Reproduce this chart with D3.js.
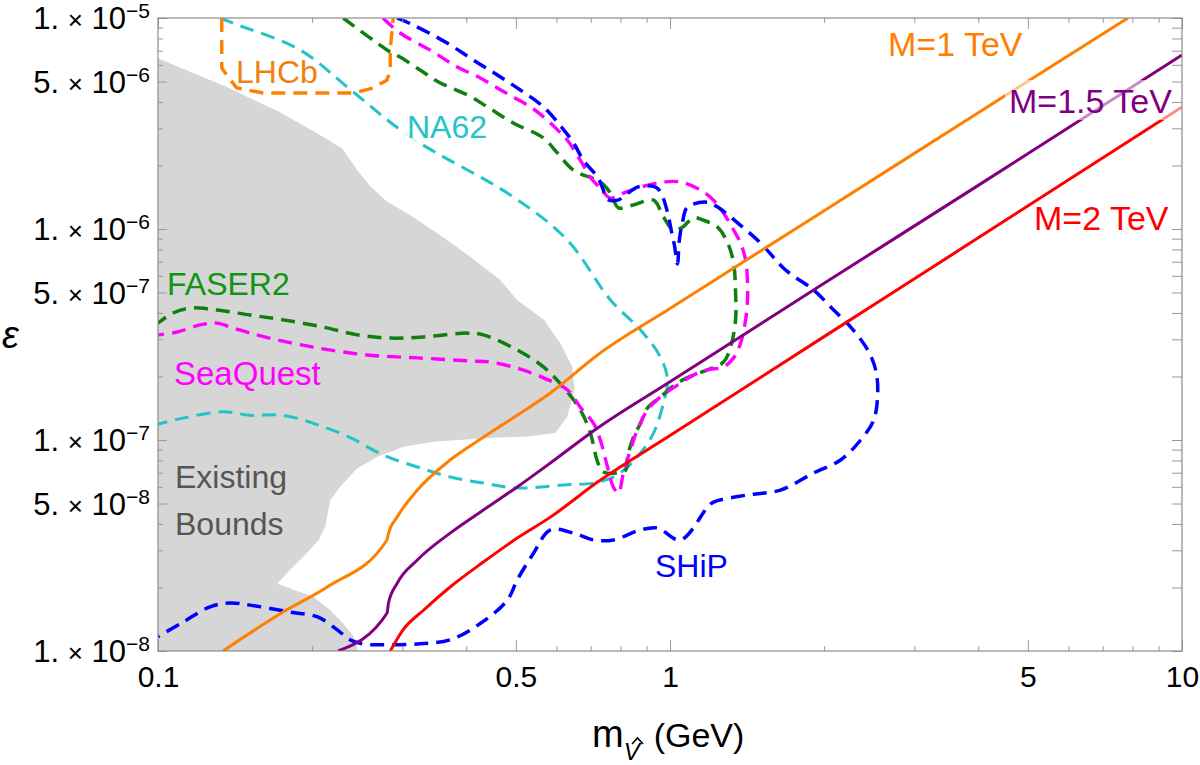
<!DOCTYPE html>
<html lang="en">
<meta charset="utf-8">
<script src="https://d3js.org/d3.v7.min.js"></script>
<style>
  body { margin: 0; background: #fff; }
  text { font-family: "Liberation Sans", Arial, sans-serif; }
</style>
<svg id="base" width="1200" height="765"></svg>

<script>
// ---- data: [mass (GeV), epsilon] ----
var existingBounds = [[0.1,6.44e-6],[0.138,4.64e-6],[0.172,3.60e-6],[0.210,2.74e-6],[0.229,2.41e-6],[0.245,1.90e-6],[0.260,1.59e-6],[0.280,1.35e-6],[0.315,1.14e-6],[0.367,8.87e-7],[0.407,7.39e-7],[0.466,5.73e-7],[0.503,4.61e-7],[0.567,3.71e-7],[0.611,2.87e-7],[0.644,2.23e-7],[0.651,1.73e-7],[0.630,1.29e-7],[0.597,1.08e-7],[0.526,1.04e-7],[0.433,1.02e-7],[0.345,9.82e-8],[0.302,9.29e-8],[0.268,8.33e-8],[0.245,7.34e-8],[0.227,6.01e-8],[0.217,5.20e-8],[0.212,3.88e-8],[0.206,3.36e-8],[0.195,2.90e-8],[0.181,2.42e-8],[0.171,2.09e-8],[0.184,1.95e-8],[0.201,1.81e-8],[0.217,1.56e-8],[0.230,1.35e-8],[0.241,1.17e-8],[0.246,1e-8],[0.1,1e-8]];

var lhcb = [[0.1332,1e-5],[0.1332,5.79e-6],[0.1362,5.37e-6],[0.1425,4.66e-6],[0.1604,4.41e-6],[0.2406,4.41e-6],[0.2633,4.66e-6],[0.2801,5.08e-6],[0.2842,5.67e-6],[0.2842,7.05e-6],[0.288,1e-5]];

var na62 = [[0.1322,1e-5],[0.1415,9.37e-6],[0.1895,7.05e-6],[0.2406,4.46e-6],[0.311,2.73e-6],[0.494,1.42e-6],[0.630,8.87e-7],[0.765,4.61e-7],[0.876,3.32e-7],[0.958,2.47e-7],[0.989,1.93e-7],[0.971,1.50e-7],[0.929,1.08e-7],[0.876,8.68e-8],[0.826,7.45e-8],[0.775,6.68e-8],[0.709,6.25e-8],[0.619,6.12e-8],[0.503,5.92e-8],[0.432,6.25e-8],[0.372,6.68e-8],[0.321,7.45e-8],[0.275,8.49e-8],[0.237,1.03e-7],[0.205,1.18e-7],[0.1755,1.31e-7],[0.1513,1.31e-7],[0.134,1.36e-7],[0.1119,1.27e-7],[0.1,1.19e-7]];

var faser2 = [[0.230,1e-5],[0.2842,6.90e-6],[0.297,6.53e-6],[0.325,5.67e-6],[0.353,4.97e-6],[0.402,4.32e-6],[0.440,3.79e-6],[0.494,3.18e-6],[0.566,2.70e-6],[0.603,2.29e-6],[0.648,1.90e-6],[0.731,1.67e-6],[0.765,1.48e-6],[0.793,1.26e-6],[0.848,1.30e-6],[0.929,1.37e-6],[0.971,1.14e-6],[1.016,9.89e-7],[1.058,1.02e-6],[1.111,1.13e-6],[1.163,1.10e-6],[1.239,1.02e-6],[1.296,8.58e-7],[1.331,6.90e-7],[1.343,4.97e-7],[1.343,3.71e-7],[1.313,2.76e-7],[1.272,2.34e-7],[1.184,2.15e-7],[1.111,2.03e-7],[1.034,1.86e-7],[0.958,1.60e-7],[0.904,1.42e-7],[0.876,1.20e-7],[0.848,1.03e-7],[0.826,8.30e-8],[0.819,7.20e-8],[0.741,7.05e-8],[0.722,7.87e-8],[0.699,1.08e-7],[0.668,1.39e-7],[0.619,1.78e-7],[0.566,2.22e-7],[0.503,2.67e-7],[0.432,3.15e-7],[0.402,3.21e-7],[0.330,3.08e-7],[0.284,3.04e-7],[0.245,3.15e-7],[0.210,3.43e-7],[0.1755,3.71e-7],[0.1513,3.91e-7],[0.1304,4.13e-7],[0.1155,4.22e-7],[0.107,4.00e-7],[0.1,3.58e-7]];

var seaquest = [[0.275,1e-5],[0.297,8.49e-6],[0.340,7.05e-6],[0.384,5.86e-6],[0.426,5.20e-6],[0.460,4.66e-6],[0.494,4.22e-6],[0.534,3.79e-6],[0.566,3.40e-6],[0.603,2.95e-6],[0.630,2.64e-6],[0.668,2.12e-6],[0.699,1.76e-6],[0.731,1.56e-6],[0.765,1.40e-6],[0.811,1.48e-6],[0.876,1.58e-6],[0.971,1.67e-6],[1.048,1.67e-6],[1.147,1.53e-6],[1.216,1.37e-6],[1.272,1.19e-6],[1.331,9.89e-7],[1.373,8.58e-7],[1.405,7.13e-7],[1.417,5.55e-7],[1.417,4.61e-7],[1.405,3.71e-7],[1.373,2.87e-7],[1.331,2.45e-7],[1.272,2.22e-7],[1.184,2.15e-7],[1.111,2.03e-7],[1.034,1.82e-7],[0.958,1.60e-7],[0.904,1.39e-7],[0.864,1.12e-7],[0.837,8.97e-8],[0.811,6.98e-8],[0.793,5.61e-8],[0.775,5.99e-8],[0.755,7.45e-8],[0.731,1e-7],[0.709,1.20e-7],[0.668,1.43e-7],[0.630,1.73e-7],[0.566,1.97e-7],[0.503,2.19e-7],[0.446,2.34e-7],[0.407,2.37e-7],[0.321,2.45e-7],[0.256,2.53e-7],[0.205,2.73e-7],[0.171,2.98e-7],[0.1513,3.21e-7],[0.140,3.40e-7],[0.1304,3.58e-7],[0.1208,3.51e-7],[0.109,3.25e-7],[0.1,3.15e-7]];

var ship = [[0.293,1e-5],[0.315,9.27e-6],[0.367,7.61e-6],[0.413,6.32e-6],[0.460,5.37e-6],[0.510,4.56e-6],[0.566,3.79e-6],[0.616,3.01e-6],[0.648,2.56e-6],[0.677,2.12e-6],[0.722,1.76e-6],[0.741,1.53e-6],[0.751,1.39e-6],[0.790,1.37e-6],[0.864,1.58e-6],[0.937,1.58e-6],[0.958,1.50e-6],[0.989,1.20e-6],[1.007,9.68e-7],[1.020,8.40e-7],[1.034,6.83e-7],[1.043,8.87e-7],[1.058,1.08e-6],[1.082,1.27e-6],[1.184,1.34e-6],[1.239,1.27e-6],[1.355,1.07e-6],[1.503,8.58e-7],[1.682,6.39e-7],[1.908,5.14e-7],[2.088,4.13e-7],[2.254,3.43e-7],[2.433,2.67e-7],[2.522,2.15e-7],[2.545,1.67e-7],[2.499,1.24e-7],[2.357,1e-7],[2.154,8.04e-8],[1.908,6.98e-8],[1.644,5.79e-8],[1.417,5.49e-8],[1.216,5.08e-8],[1.184,4.81e-8],[1.048,3.36e-8],[0.945,3.83e-8],[0.876,3.75e-8],[0.775,3.36e-8],[0.709,3.36e-8],[0.648,3.62e-8],[0.584,3.75e-8],[0.541,2.90e-8],[0.503,2.17e-8],[0.481,1.74e-8],[0.426,1.35e-8],[0.372,1.13e-8],[0.321,1.08e-8],[0.275,1.07e-8],[0.252,1.08e-8],[0.237,1.13e-8],[0.224,1.26e-8],[0.205,1.45e-8],[0.181,1.53e-8],[0.1513,1.65e-8],[0.138,1.69e-8],[0.1264,1.62e-8],[0.1119,1.37e-8],[0.1,1.17e-8]];

var m1TeV = [[0.134,1e-8],[0.1755,1.53e-8],[0.214,2.01e-8],[0.280,3.36e-8],[0.282,3.62e-8],[0.293,4.31e-8],[0.321,5.79e-8],[0.372,8.04e-8],[0.432,1.03e-7],[0.503,1.31e-7],[0.584,1.67e-7],[0.722,2.53e-7],[1,4.20e-7],[2,1.22e-6],[4,3.56e-6],[7.84,1e-5]];
var m15TeV = [[0.2248,1e-8],[0.280,1.51e-8],[0.282,1.69e-8],[0.293,2.09e-8],[0.321,2.70e-8],[0.372,3.62e-8],[0.432,4.66e-8],[0.503,5.99e-8],[0.584,7.78e-8],[0.722,1.14e-7],[1,1.89e-7],[2,5.53e-7],[4,1.61e-6],[10,6.68e-6]];
var m2TeV = [[0.2842,1e-8],[0.301,1.26e-8],[0.330,1.56e-8],[0.372,2.01e-8],[0.432,2.64e-8],[0.503,3.43e-8],[0.584,4.31e-8],[0.722,6.32e-8],[1,1.05e-7],[2,3.09e-7],[4,9.08e-7],[10,3.79e-6]];

// ticks
var xMajor = [0.1, 0.5, 1, 5, 10];
var xMinor = [0.2, 0.3, 0.4, 0.6, 0.7, 0.8, 0.9, 2, 3, 4, 6, 7, 8, 9];
var yMajor = [1e-8, 5e-8, 1e-7, 5e-7, 1e-6, 5e-6, 1e-5];
var yMinor = [2e-8,3e-8,4e-8,6e-8,7e-8,8e-8,9e-8,2e-7,3e-7,4e-7,6e-7,7e-7,8e-7,9e-7,2e-6,3e-6,4e-6,6e-6,7e-6,8e-6,9e-6];

var L = 158, R = 1182, T = 18, B = 651;
var svg = d3.select("#base");

var x = d3.scaleLog().domain([0.1, 10]).range([L, R]);
var y = d3.scaleLog().domain([1e-8, 1e-5]).range([B, T]);

svg.append("clipPath").attr("id", "clip")
    .append("rect").attr("x", L).attr("y", T).attr("width", R - L).attr("height", B - T);

var plot = svg.append("g").attr("clip-path", "url(#clip)");

var line = d3.line()
    .x(function (d) { return x(d[0]); })
    .y(function (d) { return y(d[1]); });
var smooth = d3.line()
    .x(function (d) { return x(d[0]); })
    .y(function (d) { return y(d[1]); })
    .curve(d3.curveCatmullRom.alpha(0.5));
var mono = d3.line()
    .x(function (d) { return x(d[0]); })
    .y(function (d) { return y(d[1]); })
    .curve(d3.curveMonotoneX);

// existing bounds
plot.append("path")
    .attr("d", line(existingBounds) + "Z")
    .attr("fill", "#d6d6d6");

var dashed = [
    { d: na62, c: "#22c4c8", w: 3, gen: smooth },
    { d: lhcb, c: "#ff8000", w: 3.4, gen: line },
    { d: faser2, c: "#0f7f0f", w: 3.5, gen: smooth },
    { d: seaquest, c: "#ff00ff", w: 3.4, gen: smooth },
    { d: ship, c: "#0000ff", w: 3.5, gen: smooth }
];
dashed.forEach(function (s) {
    plot.append("path")
        .attr("d", s.gen(s.d))
        .attr("fill", "none")
        .attr("stroke", s.c)
        .attr("stroke-width", s.w)
        .attr("stroke-dasharray", "14,8");
});

var solid = [
    { d: m1TeV, c: "#ff8000" },
    { d: m15TeV, c: "#800080" },
    { d: m2TeV, c: "#ff0000" }
];
solid.forEach(function (s) {
    plot.append("path")
        .attr("d", mono(s.d))
        .attr("fill", "none")
        .attr("stroke", s.c)
        .attr("stroke-width", 3);
});

// label backgrounds
svg.append("rect").attr("x", 404).attr("y", 110).attr("width", 88).attr("height", 32)
    .attr("fill", "#fff").attr("opacity", 0.85);
svg.append("rect").attr("x", 1005).attr("y", 80).attr("width", 177).attr("height", 40)
    .attr("fill", "#fff").attr("opacity", 0.55);

// curve labels
var labels = [
    { t: "LHCb", x: 236, y: 83, c: "#f08010", s: 32 },
    { t: "NA62", x: 407, y: 138, c: "#22c4c8", s: 32 },
    { t: "FASER2", x: 167, y: 295, c: "#119411", s: 32 },
    { t: "SeaQuest", x: 174, y: 385, c: "#ff00ff", s: 33 },
    { t: "Existing", x: 175, y: 488, c: "#555555", s: 32 },
    { t: "Bounds", x: 175, y: 535, c: "#555555", s: 32 },
    { t: "SHiP", x: 655, y: 577, c: "#0000ff", s: 32 },
    { t: "M=1 TeV", x: 888, y: 56, c: "#ff8000", s: 34 },
    { t: "M=1.5 TeV", x: 1009, y: 113, c: "#800080", s: 34 },
    { t: "M=2 TeV", x: 1034, y: 230, c: "#ff0000", s: 34 }
];
svg.selectAll(".lab").data(labels).enter().append("text")
    .attr("class", "lab")
    .attr("x", function (d) { return d.x; })
    .attr("y", function (d) { return d.y; })
    .attr("fill", function (d) { return d.c; })
    .style("font-size", function (d) { return d.s + "px"; })
    .text(function (d) { return d.t; });

// axes (inward ticks on all four sides)
function styleAxis(g) {
    g.select(".domain").remove();
    g.selectAll(".tick line").attr("stroke", "#999").attr("stroke-width", 1);
}
svg.append("g").attr("transform", "translate(0," + B + ")")
    .call(d3.axisBottom(x).tickValues(xMajor).tickSize(-11).tickPadding(15)
        .tickFormat(function (d) { return d3.format("")(d); }))
    .call(styleAxis)
    .selectAll("text").style("font-size", "30px").attr("fill", "#000")
    .style("font-family", "Liberation Sans, Arial, sans-serif");
svg.append("g").attr("transform", "translate(0," + B + ")")
    .call(d3.axisBottom(x).tickValues(xMinor).tickSize(-5).tickFormat("")).call(styleAxis);
svg.append("g").attr("transform", "translate(0," + T + ")")
    .call(d3.axisTop(x).tickValues(xMajor).tickSize(-11).tickFormat("")).call(styleAxis);
svg.append("g").attr("transform", "translate(0," + T + ")")
    .call(d3.axisTop(x).tickValues(xMinor).tickSize(-5).tickFormat("")).call(styleAxis);
svg.append("g").attr("transform", "translate(" + L + ",0)")
    .call(d3.axisLeft(y).tickValues(yMajor).tickSize(-9).tickFormat("")).call(styleAxis);
svg.append("g").attr("transform", "translate(" + L + ",0)")
    .call(d3.axisLeft(y).tickValues(yMinor).tickSize(-5).tickFormat("")).call(styleAxis);
svg.append("g").attr("transform", "translate(" + R + ",0)")
    .call(d3.axisRight(y).tickValues(yMajor).tickSize(-10).tickFormat("")).call(styleAxis);
svg.append("g").attr("transform", "translate(" + R + ",0)")
    .call(d3.axisRight(y).tickValues(yMinor).tickSize(-10).tickFormat("")).call(styleAxis);

svg.append("rect").attr("x", L).attr("y", T).attr("width", R - L).attr("height", B - T)
    .attr("fill", "none").attr("stroke", "#8c8c8c").attr("stroke-width", 1.2);

// y tick labels in Mathematica style: 1.×10^-n
yMajor.forEach(function (v) {
    var e = Math.floor(Math.log10(v) + 1e-9);
    var mant = Math.round(v / Math.pow(10, e));
    var t = svg.append("text")
        .attr("x", 150).attr("y", y(v) + 11)
        .attr("text-anchor", "end")
        .style("font-size", "31px");
    t.append("tspan").text(mant + ". ");
    t.append("tspan").style("font-size", "26px").text("\u00d7");
    t.append("tspan").text(" 10");
    t.append("tspan").attr("dy", -11).style("font-size", "21px").text("\u2212" + (-e));
});

// axis titles
var xt = svg.append("text").attr("x", 592).attr("y", 747).style("font-size", "34px");
xt.append("tspan").style("font-size", "38px").text("m");
xt.append("tspan").attr("dy", 13).style("font-size", "24px").style("font-style", "italic").text("V");
xt.append("tspan").attr("dy", -13).attr("dx", 14).text("(GeV)");
// hat over the subscript V
svg.append("path").attr("d", "M632,744 L637.5,738 L643,744")
    .attr("fill", "none").attr("stroke", "#000").attr("stroke-width", 1.6);

svg.append("text").attr("x", 2).attr("y", 348)
    .style("font-size", "38px").style("font-style", "italic").text("\u03b5");
</script>
</html>
